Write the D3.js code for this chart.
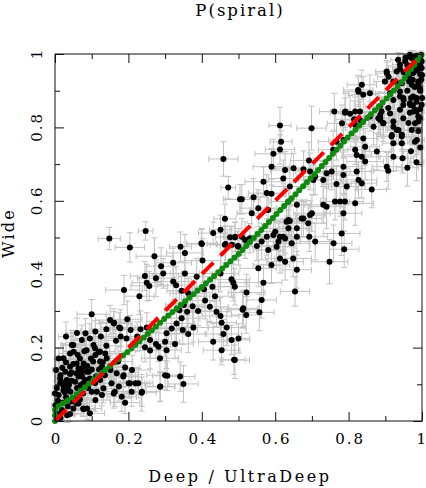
<!DOCTYPE html>
<html><head><meta charset="utf-8">
<script src="https://cdn.jsdelivr.net/npm/d3@7"></script>
<style>html,body{margin:0;padding:0;background:#fff;} svg{display:block}</style>
</head><body>
<svg id="chart" width="426" height="488"></svg>
<script>
const title = "P(spiral)";
const xLabel = "Deep / UltraDeep";
const yLabel = "Wide";
const majorTicks = [0, 0.2, 0.4, 0.6, 0.8, 1];
const minorTicks = [0.1, 0.3, 0.5, 0.7, 0.9];
const tickLabels = ["0", "0.2", "0.4", "0.6", "0.8", "1"];
const identityLine = [[0, 0], [1, 1]];
const fitCurve = [[0,0],[0,0.035],[0.05,0.065],[0.1,0.108],[0.15,0.15],[0.2,0.19],[0.25,0.235],[0.3,0.28],[0.4,0.365],[0.5,0.455],[0.6,0.56],[0.7,0.665],[0.8,0.775],[0.9,0.875],[0.95,0.93],[1,1]];
// [deep, wide, deepErr, wideErr]
const galaxies = [
[0.003,0.139,.01,.03],[0.046,0.207,.03,.04],[0.051,0.189,.03,.03],[0.083,0.239,.04,.04],[0.110,0.244,.04,.03],
[0.160,0.266,.05,.04],[0.178,0.253,.04,.05],[0.105,0.207,.04,.04],[0.119,0.189,.03,.04],[0.137,0.184,.04,.03],
[0.028,0.134,.02,.03],[0.014,0.116,.01,.03],[0.024,0.094,.02,.03],[0.010,0.071,.01,.02],[0.042,0.080,.03,.03],
[0.055,0.107,.03,.04],[0.064,0.143,.03,.04],[0.078,0.157,.04,.03],[0.074,0.121,.03,.03],[0.092,0.134,.04,.04],
[0.101,0.107,.03,.03],[0.046,0.053,.03,.03],[0.064,0.048,.03,.02],[0.078,0.032,.03,.02],[0.087,0.034,.04,.03],
[0.110,0.057,.04,.03],[0.128,0.071,.04,.03],[0.160,0.075,.04,.04],[0.174,0.094,.05,.04],[0.201,0.103,.05,.04],
[0.219,0.103,.04,.03],[0.237,0.080,.05,.04],[0.287,0.094,.04,.04],[0.210,0.139,.05,.04],[0.187,0.125,.04,.03],
[0.151,0.139,.04,.04],[0.128,0.148,.03,.03],[0.001,0.043,.01,.02],[0.019,0.030,.02,.02],[0.033,0.016,.02,.02],
[0.148,0.497,.03,.03],[0.204,0.473,.04,.04],[0.271,0.449,.05,.05],[0.289,0.422,.04,.05],[0.322,0.431,.05,.04],
[0.354,0.458,.05,.05],[0.400,0.482,.04,.04],[0.465,0.482,.05,.05],[0.402,0.437,.05,.06],[0.354,0.402,.04,.05],
[0.295,0.402,.05,.04],[0.275,0.389,.05,.05],[0.245,0.395,.04,.04],[0.250,0.377,.04,.05],[0.188,0.357,.05,.04],
[0.230,0.340,.04,.05],[0.257,0.368,.05,.04],[0.330,0.370,.05,.05],[0.345,0.355,.04,.04],[0.322,0.380,.05,.05],
[0.363,0.348,.05,.04],[0.386,0.393,.05,.05],[0.406,0.359,.04,.05],[0.429,0.366,.05,.04],[0.451,0.402,.05,.05],
[0.481,0.386,.05,.05],[0.490,0.366,.04,.05],[0.100,0.291,.04,.04],[0.150,0.275,.04,.04],[0.161,0.268,.04,.03],
[0.175,0.255,.05,.04],[0.197,0.277,.04,.05],[0.206,0.248,.05,.04],[0.179,0.230,.04,.04],[0.166,0.219,.04,.05],
[0.195,0.225,.05,.04],[0.224,0.230,.04,.04],[0.233,0.250,.05,.05],[0.250,0.255,.04,.04],[0.259,0.221,.05,.05],
[0.275,0.210,.04,.04],[0.245,0.201,.05,.04],[0.259,0.192,.04,.05],[0.282,0.202,.05,.04],[0.300,0.216,.04,.04],
[0.304,0.239,.05,.05],[0.318,0.252,.04,.04],[0.331,0.266,.05,.05],[0.345,0.280,.05,.04],[0.339,0.302,.04,.05],
[0.351,0.316,.05,.04],[0.360,0.298,.04,.04],[0.375,0.313,.05,.05],[0.390,0.300,.05,.04],[0.409,0.328,.04,.05],
[0.422,0.311,.05,.04],[0.436,0.340,.05,.05],[0.440,0.298,.04,.04],[0.451,0.286,.05,.05],[0.454,0.268,.04,.04],
[0.468,0.255,.05,.05],[0.459,0.237,.05,.04],[0.431,0.216,.04,.05],[0.481,0.221,.05,.04],[0.490,0.166,.04,.05],
[0.454,0.193,.05,.04],[0.377,0.255,.04,.04],[0.363,0.237,.05,.05],[0.348,0.248,.04,.04],[0.327,0.210,.05,.04],
[0.304,0.193,.04,.05],[0.286,0.171,.05,.04],[0.300,0.125,.05,.04],[0.306,0.123,.04,.04],[0.341,0.121,.04,.04],
[0.350,0.101,.04,.05],[0.286,0.093,.04,.04],[0.236,0.077,.04,.05],[0.204,0.103,.04,.04],[0.227,0.103,.04,.04],
[0.186,0.121,.04,.03],[0.168,0.130,.04,.04],[0.191,0.146,.04,.04],[0.172,0.162,.04,.04],[0.150,0.148,.04,.03],
[0.141,0.171,.04,.04],[0.123,0.189,.04,.04],[0.109,0.198,.04,.04],[0.086,0.193,.04,.03],[0.073,0.221,.03,.04],
[0.050,0.207,.03,.04],[0.041,0.184,.03,.03],[0.023,0.171,.02,.04],[0.041,0.148,.03,.03],[0.059,0.157,.03,.03],
[0.077,0.148,.03,.04],[0.086,0.134,.04,.03],[0.104,0.162,.04,.04],[0.123,0.162,.04,.03],[0.095,0.116,.04,.04],
[0.109,0.103,.04,.03],[0.132,0.089,.04,.04],[0.114,0.080,.04,.03],[0.077,0.075,.03,.03],[0.068,0.059,.03,.03],
[0.059,0.048,.03,.02],[0.050,0.034,.03,.02],[0.077,0.034,.03,.02],[0.095,0.021,.04,.02],[0.041,0.019,.03,.02],
[0.023,0.084,.02,.03],[0.014,0.103,.01,.03],[0.000,0.075,.01,.02],[0.032,0.112,.02,.03],[0.045,0.110,.03,.03],
[0.041,0.128,.03,.03],[0.064,0.121,.03,.03],[0.077,0.103,.03,.03],[0.100,0.080,.04,.03],[0.123,0.112,.04,.04],
[0.136,0.125,.04,.04],[0.154,0.103,.04,.03],[0.163,0.080,.04,.04],[0.182,0.066,.04,.04],[0.191,0.050,.04,.03],
[0.209,0.080,.04,.04],
[0.010,0.020,.01,.02],[0.020,0.050,.02,.02],[0.005,0.090,.01,.03],[0.030,0.065,.02,.03],[0.015,0.125,.01,.03],
[0.038,0.098,.02,.03],[0.060,0.090,.03,.03],[0.035,0.040,.02,.02],[0.052,0.062,.03,.03],[0.070,0.098,.03,.03],
[0.020,0.145,.02,.03],[0.058,0.130,.03,.03],[0.082,0.112,.03,.03],[0.090,0.090,.04,.03],[0.030,0.160,.02,.03],
[0.050,0.155,.03,.03],[0.010,0.170,.01,.03],[0.068,0.170,.03,.04],[0.080,0.190,.03,.04],[0.100,0.140,.04,.03],
[0.112,0.122,.04,.03],[0.120,0.140,.04,.04],[0.130,0.160,.04,.03],[0.062,0.180,.03,.03],[0.098,0.170,.04,.04],
[0.045,0.132,.03,.03],[0.026,0.105,.02,.03],[0.008,0.055,.01,.02],[0.015,0.008,.01,.01],[0.027,0.078,.02,.03],
[0.036,0.085,.02,.03],[0.088,0.150,.03,.03],[0.072,0.135,.03,.03],[0.110,0.180,.04,.04],[0.140,0.205,.04,.04],
[0.095,0.225,.04,.04],[0.125,0.230,.04,.04],[0.060,0.240,.03,.04],[0.030,0.230,.02,.04],[0.140,0.250,.04,.04],
[0.459,0.714,.04,.047],[0.472,0.636,.02,.03],[0.504,0.604,.04,.04],[0.463,0.551,.03,.04],[0.451,0.521,.03,.04],
[0.431,0.512,.04,.03],[0.247,0.518,.02,.025],[0.342,0.475,.03,.04],[0.399,0.484,.04,.04],[0.477,0.501,.04,.03],
[0.490,0.501,.03,.04],[0.463,0.480,.04,.05],[0.498,0.477,.04,.04],
[0.613,0.805,.03,.05],[0.699,0.798,.04,.06],[0.616,0.761,.03,.03],[0.613,0.740,.04,.04],[0.595,0.728,.05,.04],
[0.590,0.693,.05,.05],[0.627,0.684,.04,.05],[0.650,0.689,.05,.04],[0.677,0.686,.04,.05],[0.692,0.710,.05,.05],
[0.568,0.652,.05,.04],[0.622,0.661,.04,.05],[0.640,0.639,.05,.05],[0.577,0.621,.05,.05],[0.590,0.619,.04,.04],
[0.509,0.604,.05,.04],[0.541,0.610,.04,.05],[0.554,0.580,.05,.05],[0.536,0.566,.04,.04],[0.581,0.575,.05,.05],
[0.636,0.598,.05,.04],[0.659,0.589,.04,.05],[0.631,0.543,.05,.05],[0.640,0.545,.04,.04],[0.677,0.552,.05,.05],
[0.695,0.561,.04,.04],[0.731,0.589,.05,.05],[0.740,0.584,.05,.06],[0.763,0.598,.04,.05],[0.790,0.598,.05,.05],
[0.818,0.593,.05,.06],[0.786,0.670,.04,.05],[0.786,0.693,.05,.04],[0.754,0.680,.05,.05],[0.740,0.675,.04,.04],
[0.709,0.666,.05,.05],[0.704,0.657,.04,.04],[0.822,0.680,.04,.05],[0.827,0.657,.05,.05],[0.836,0.648,.04,.04],
[0.863,0.631,.04,.05],[0.845,0.707,.05,.05],[0.818,0.739,.04,.04],[0.822,0.725,.04,.05],[0.836,0.720,.05,.04],
[0.877,0.734,.04,.05],[0.904,0.693,.04,.04],[0.908,0.682,.04,.05],[0.922,0.720,.04,.04],[0.945,0.757,.03,.04],
[0.947,0.716,.03,.04],[0.981,0.761,.02,.04],[0.917,0.775,.04,.04],[0.931,0.793,.03,.04],[0.922,0.816,.04,.05],
[0.972,0.793,.02,.04],[0.945,0.780,.03,.04],[0.981,0.811,.02,.04],[0.985,0.843,.02,.04],[0.967,0.840,.03,.04],
[0.886,0.825,.04,.05],[0.890,0.843,.04,.04],[0.913,0.838,.04,.04],[0.949,0.861,.03,.04],[0.976,0.884,.02,.04],
[0.913,0.893,.04,.04],[0.858,0.893,.04,.05],[0.826,0.902,.04,.04],[0.761,0.843,.04,.05],[0.790,0.840,.04,.04],
[0.804,0.837,.04,.05],[0.818,0.843,.04,.04],[0.831,0.843,.04,.05],[0.815,0.822,.05,.05],[0.818,0.807,.04,.04],
[0.840,0.770,.04,.05],[0.767,0.761,.05,.05],[0.758,0.739,.04,.05],[0.509,0.502,.05,.05],[0.491,0.502,.04,.04],
[0.518,0.493,.05,.05],[0.482,0.480,.04,.05],[0.550,0.477,.05,.04],[0.581,0.466,.04,.05],[0.604,0.475,.05,.05],
[0.613,0.502,.04,.04],[0.600,0.516,.05,.05],[0.622,0.502,.04,.05],[0.636,0.548,.04,.04],[0.659,0.502,.05,.05],
[0.672,0.552,.04,.05],[0.693,0.502,.05,.04],[0.709,0.489,.04,.05],[0.700,0.566,.05,.05],[0.759,0.484,.05,.05],
[0.781,0.511,.05,.06],[0.788,0.468,.04,.05],[0.748,0.434,.05,.06],[0.649,0.443,.05,.05],[0.659,0.412,.04,.05],
[0.627,0.434,.05,.05],[0.613,0.443,.04,.04],[0.590,0.425,.05,.05],[0.554,0.416,.05,.05],[0.486,0.377,.04,.05],
[0.522,0.350,.05,.05],[0.568,0.377,.05,.05],[0.563,0.330,.04,.05],[0.654,0.353,.04,.04],[0.513,0.307,.04,.05],
[0.645,0.484,.05,.05],[0.627,0.497,.04,.04],[0.609,0.489,.04,.05],[0.595,0.507,.05,.04],[0.577,0.502,.04,.05],
[0.563,0.489,.05,.05],[0.531,0.498,.04,.04],[0.500,0.475,.05,.05],[0.636,0.525,.05,.05],[0.659,0.525,.04,.04],
[0.690,0.539,.05,.05],[0.786,0.566,.05,.05],[0.777,0.598,.04,.04],[0.695,0.680,.04,.05],[0.731,0.657,.05,.05],
[0.767,0.646,.04,.05],[0.795,0.639,.05,.05],
[0.511,0.303,.04,.05],[0.521,0.289,.04,.05],[0.557,0.296,.04,.05],[0.500,0.225,.03,.04],[0.488,0.167,.03,.04],
[0.935,0.984,.02,.02],[0.940,0.971,.02,.03],[0.967,0.998,.02,.01],[0.976,0.989,.02,.02],[0.985,0.975,.01,.02],
[0.999,0.962,.01,.03],[1.000,0.943,.01,.03],[0.976,0.948,.02,.03],[0.958,0.934,.02,.03],[0.931,0.952,.03,.03],
[0.904,0.948,.03,.03],[0.899,0.925,.03,.03],[0.922,0.925,.03,.04],[0.935,0.920,.03,.03],[0.972,0.916,.02,.03],
[0.994,0.907,.01,.03],[0.985,0.880,.02,.04],[0.999,0.862,.01,.04],[0.967,0.866,.02,.04],[0.949,0.880,.03,.04],
[0.940,0.898,.03,.03],[0.922,0.875,.03,.04],[0.908,0.853,.03,.04],[0.885,0.857,.04,.04],[0.881,0.825,.04,.04],
[0.894,0.812,.04,.05],[0.940,0.848,.03,.04],[0.981,0.848,.02,.04],[0.949,0.825,.03,.04],[0.994,0.825,.01,.04],
[0.963,0.812,.02,.04],[0.836,0.916,.04,.04],[0.840,0.889,.04,.05],[0.858,0.830,.04,.04],[0.990,0.925,.01,.03],
[0.999,0.980,.01,.02],[0.954,0.980,.02,.02],[0.963,0.961,.02,.03],[0.904,0.952,.03,.03],[0.909,0.938,.03,.03],
[0.827,0.897,.04,.04],[0.791,0.843,.04,.05],[0.831,0.820,.04,.05],[0.886,0.834,.04,.04],[0.886,0.820,.04,.04],
[0.868,0.802,.04,.05],[0.895,0.811,.04,.04],[0.940,0.884,.03,.04],[0.950,0.875,.03,.04],[0.968,0.861,.02,.04],
[0.977,0.843,.02,.04],[0.990,0.816,.01,.04],[0.922,0.802,.03,.04],[0.936,0.793,.03,.04],[0.918,0.779,.03,.04],
[0.945,0.775,.03,.04],[0.922,0.757,.03,.04],[0.986,0.766,.02,.04],[0.845,0.747,.04,.05],[0.782,0.811,.04,.05],
[0.786,0.766,.04,.05],
[0.990,0.990,.01,.01],[0.980,0.980,.01,.02],[0.995,0.970,.01,.02],[0.970,0.990,.02,.01],[0.985,0.955,.01,.03],
[0.960,0.970,.02,.02],[0.995,0.945,.01,.03],[0.975,0.930,.02,.03],[0.990,0.920,.01,.03],[0.950,0.950,.02,.03],
[0.965,0.940,.02,.03],[0.980,0.910,.02,.03],[0.995,0.900,.01,.03],[1.000,0.880,.01,.04],[0.960,0.900,.02,.03],
[0.945,0.920,.02,.03],[0.990,0.960,.01,.02],[0.975,0.965,.02,.02],[0.985,0.995,.01,.01],[0.955,0.990,.02,.01],
[0.940,0.960,.02,.03],[0.970,0.880,.02,.04],[0.985,0.870,.01,.04],[0.995,0.850,.01,.04],[0.990,0.830,.01,.04],
[0.975,0.860,.02,.04],[0.998,0.998,.01,.01],[0.992,0.975,.01,.02],[0.998,0.930,.01,.03],[0.965,0.925,.02,.03],
[0.990,0.790,.01,.04],[0.995,0.745,.01,.05],[0.985,0.705,.02,.05],[0.970,0.735,.02,.04],[0.960,0.690,.03,.05]
];

const x = d3.scaleLinear().domain([0, 1]).range([55, 422]);
const y = d3.scaleLinear().domain([0, 1]).range([421, 54]);
const svg = d3.select("#chart");
const FONT = "'DejaVu Serif', serif";
const CAP = 3;

// error bars
svg.append("g").attr("fill", "none").attr("stroke", "#c2c2c2").attr("stroke-width", 1)
  .selectAll("path").data(galaxies).join("path")
  .attr("d", d => {
    const [gx, gy, ex, ey] = d;
    const cx = x(gx), cy = y(gy);
    const x0 = x(gx - ex), x1 = x(gx + ex), y0 = y(gy - ey), y1 = y(gy + ey);
    return `M${x0},${cy}H${x1}M${x0},${cy - CAP}V${cy + CAP}M${x1},${cy - CAP}V${cy + CAP}` +
           `M${cx},${y0}V${y1}M${cx - CAP},${y0}H${cx + CAP}M${cx - CAP},${y1}H${cx + CAP}`;
  });

// points
svg.append("g").selectAll("circle").data(galaxies).join("circle")
  .attr("cx", d => x(d[0])).attr("cy", d => y(d[1])).attr("r", 3).attr("fill", "#000");

const line = d3.line().x(d => x(d[0])).y(d => y(d[1]));
// green dotted fit curve
svg.append("path").attr("d", line(fitCurve)).attr("fill", "none")
  .attr("stroke", "#0f8a0f").attr("stroke-width", 6).attr("stroke-linecap", "round")
  .attr("stroke-dasharray", "0,5.5");
// red dashed 1:1 line
svg.append("path").attr("d", line(identityLine)).attr("fill", "none")
  .attr("stroke", "#ff0000").attr("stroke-width", 4).attr("stroke-dasharray", "16,10");

// frame
svg.append("rect").attr("x", x(0)).attr("y", y(1)).attr("width", x(1) - x(0)).attr("height", y(0) - y(1))
  .attr("fill", "none").attr("stroke", "#111").attr("stroke-width", 1);

function styleAxis(g) {
  g.select(".domain").remove();
  g.selectAll("line").attr("stroke", "#111");
  g.selectAll("text").attr("font-family", FONT).attr("font-size", 15).attr("fill", "#000")
    .attr("letter-spacing", 2);
}
const fmt = d => tickLabels[majorTicks.indexOf(d)];
// bottom
const bottom = svg.append("g").attr("transform", `translate(0,${y(0)})`)
  .call(d3.axisBottom(x).tickValues(majorTicks).tickFormat(fmt).tickSizeInner(-9).tickSizeOuter(0).tickPadding(12))
  .call(styleAxis);
bottom.selectAll("text").attr("dx", 1);
bottom.selectAll("text").filter(d => d === 1)
  .attr("letter-spacing", 0).attr("text-anchor", "end").attr("dx", 3.5);
svg.append("g").attr("transform", `translate(0,${y(0)})`)
  .call(d3.axisBottom(x).tickValues(minorTicks).tickFormat("").tickSizeInner(-5).tickSizeOuter(0)).call(styleAxis);
// top
svg.append("g").attr("transform", `translate(0,${y(1)})`)
  .call(d3.axisTop(x).tickValues(majorTicks).tickFormat("").tickSizeInner(-9).tickSizeOuter(0)).call(styleAxis);
svg.append("g").attr("transform", `translate(0,${y(1)})`)
  .call(d3.axisTop(x).tickValues(minorTicks).tickFormat("").tickSizeInner(-5).tickSizeOuter(0)).call(styleAxis);
// left
const left = svg.append("g").attr("transform", `translate(${x(0)},0)`)
  .call(d3.axisLeft(y).tickValues(majorTicks).tickFormat(fmt).tickSizeInner(-9).tickSizeOuter(0))
  .call(styleAxis);
left.selectAll("text").attr("transform", "rotate(-90)").attr("x", 1).attr("y", -13)
  .attr("dy", 0).attr("text-anchor", "middle");
svg.append("g").attr("transform", `translate(${x(0)},0)`)
  .call(d3.axisLeft(y).tickValues(minorTicks).tickFormat("").tickSizeInner(-5).tickSizeOuter(0)).call(styleAxis);
// right
svg.append("g").attr("transform", `translate(${x(1)},0)`)
  .call(d3.axisRight(y).tickValues(majorTicks).tickFormat("").tickSizeInner(-9).tickSizeOuter(0)).call(styleAxis);
svg.append("g").attr("transform", `translate(${x(1)},0)`)
  .call(d3.axisRight(y).tickValues(minorTicks).tickFormat("").tickSizeInner(-5).tickSizeOuter(0)).call(styleAxis);

// titles
svg.append("text").attr("x", 240).attr("y", 16).attr("text-anchor", "middle")
  .attr("font-family", FONT).attr("font-size", 16.5).attr("letter-spacing", 2).text(title);
svg.append("text").attr("x", 240).attr("y", 482).attr("text-anchor", "middle")
  .attr("font-family", FONT).attr("font-size", 16).attr("letter-spacing", 2.6).text(xLabel);
svg.append("text").attr("transform", "translate(14,233) rotate(-90)").attr("text-anchor", "middle")
  .attr("font-family", FONT).attr("font-size", 16).attr("letter-spacing", 2.2).text(yLabel);
</script>
</body></html>
